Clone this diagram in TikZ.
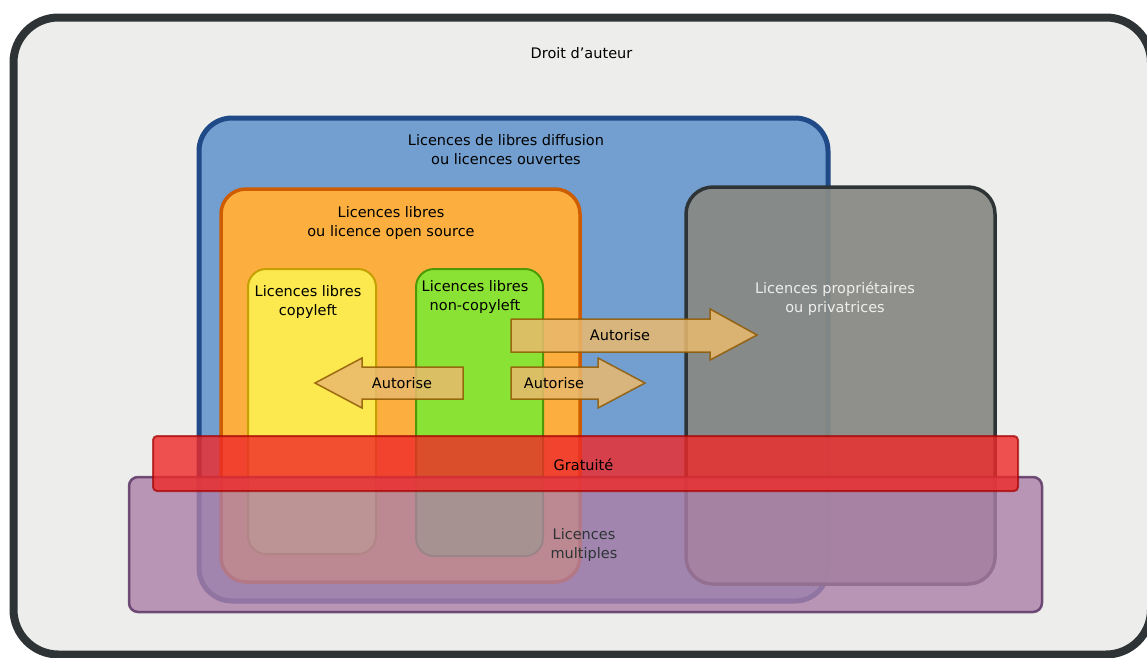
\documentclass[tikz,border=0pt]{standalone}
\usepackage{fontspec}
\setmainfont{DejaVu Sans}
\definecolor{bgfill}{HTML}{EDEDEB}
\definecolor{darkline}{HTML}{2E3436}
\definecolor{bluefill}{HTML}{729FCF}
\definecolor{blueline}{HTML}{204A87}
\definecolor{orangefill}{HTML}{FCAF3E}
\definecolor{orangeline}{HTML}{CE5C00}
\definecolor{yellowfill}{HTML}{FCE94F}
\definecolor{yellowline}{HTML}{C4A000}
\definecolor{greenfill}{HTML}{8AE234}
\definecolor{greenline}{HTML}{4E9A06}
\definecolor{greyfill}{HTML}{888A85}
\definecolor{redfill}{HTML}{EF2929}
\definecolor{redline}{HTML}{A40000}
\definecolor{purplefill}{HTML}{AD7FA8}
\definecolor{purpleline}{HTML}{5C3566}
\definecolor{arrowfill}{HTML}{E9B96E}
\definecolor{arrowline}{HTML}{8F5902}
\definecolor{lighttext}{HTML}{EEEEEC}
\tikzset{
  lbl/.style={font=\fontsize{14.5}{19}\selectfont, align=center, inner sep=0pt, text=black},
  autoarrow/.style={fill=arrowfill, draw=arrowline, fill opacity=0.85, draw opacity=0.85, line width=1.5pt, line join=miter},
}
\begin{document}
\begin{tikzpicture}[x=1pt,y=-1pt]
\useasboundingbox (0,0) rectangle (1147,657);
\clip (0,0) rectangle (1147,657);
% outer frame
\draw[fill=bgfill, draw=darkline, line width=8pt, rounded corners=45pt] (13.5,17.5) rectangle (1151,654.5);
% blue
\draw[fill=bluefill, draw=blueline, line width=5pt, rounded corners=33pt] (199,118) rectangle (828,601);
% orange
\draw[fill=orangefill, draw=orangeline, line width=3.5pt, rounded corners=25pt] (221,189) rectangle (580,582);
% yellow
\draw[fill=yellowfill, draw=yellowline, line width=2pt, rounded corners=18pt] (248,269) rectangle (376,554);
% green
\draw[fill=greenfill, draw=greenline, line width=2pt, rounded corners=18pt] (416,269) rectangle (543,556);
% grey
\draw[fill=greyfill, fill opacity=0.93, draw=darkline, line width=3.5pt, rounded corners=27pt] (686,187) rectangle (995,584);
% arrows
\draw[autoarrow] (511,319) -- (710,319) -- (710,309) -- (757,335) -- (710,360) -- (710,352) -- (511,352) -- cycle;
\draw[autoarrow] (511,367) -- (598,367) -- (598,358) -- (645,383) -- (598,408) -- (598,399) -- (511,399) -- cycle;
\draw[autoarrow] (463,367) -- (362,367) -- (362,358) -- (315,383) -- (362,408) -- (362,399) -- (463,399) -- cycle;
% purple
\draw[fill=purplefill, fill opacity=0.8, draw=purpleline, draw opacity=0.85, line width=2.5pt, rounded corners=9pt] (129,477) rectangle (1042,612);
% red
\draw[fill=redfill, fill opacity=0.8, draw=redline, draw opacity=0.7, line width=2pt, rounded corners=4pt] (153,436) rectangle (1018,491);
% labels
\node[lbl] (droit) at (581.5,53) {Droit d'auteur};
\node[lbl] (diffusion) at (506,150) {Licences de libres diffusion\\ou licences ouvertes};
\node[lbl] (libres) at (391,222.5) {Licences libres\\ou licence open source};
\node[lbl] (copyleft) at (308,301.5) {Licences libres\\copyleft};
\node[lbl] (noncopyleft) at (475,297) {Licences libres\\non-copyleft};
\node[lbl, text=lighttext] (proprio) at (835,298.5) {Licences propriétaires\\ou privatrices};
\node[lbl] (auto1) at (620,335) {Autorise};
\node[lbl] (auto2) at (554,383) {Autorise};
\node[lbl] (auto3) at (402,383) {Autorise};
\node[lbl] (gratuite) at (583.5,465) {Gratuité};
\node[lbl, text=darkline] (multiples) at (584,544.5) {Licences\\multiples};
\end{tikzpicture}
\end{document}
